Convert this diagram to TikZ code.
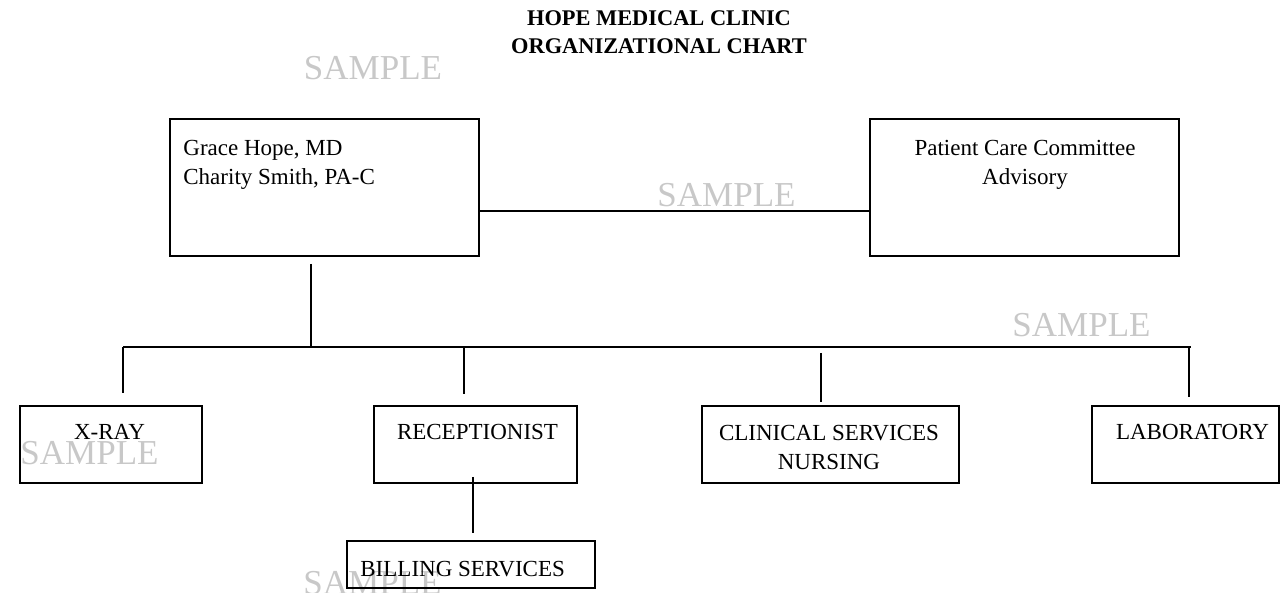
\documentclass[tikz,border=0pt]{standalone}
\usepackage{fontspec}
\setmainfont{Liberation Serif}
\usetikzlibrary{fit}
\definecolor{stampgray}{RGB}{200,200,200}
\tikzset{
	unit/.style={draw, line width=0.9pt, inner sep=0pt},
	txt/.style={inner sep=0pt, font=\fontsize{11.5}{14.75}\selectfont},
	head/.style={inner sep=0pt, font=\fontsize{11.2}{14}\selectfont\bfseries},
	stamp/.style={inner sep=0pt, text=stampgray, font=\fontsize{17.5}{20}\selectfont},
	wire/.style={line width=0.9pt}
}

\begin{document}
\begin{tikzpicture}[x=0.5pt, y=-0.5pt]
	\useasboundingbox (0,0) rectangle (1281,593);
	\node(stampa)[stamp, anchor=base] at (373,80) {SAMPLE};
	\node(stampb)[stamp, anchor=base] at (726.5,207) {SAMPLE};
	\node(stampc)[stamp, anchor=base] at (1081.5,337) {SAMPLE};
	\node(stampd)[stamp, anchor=base] at (89.5,465) {SAMPLE};
	\node(stampe)[stamp, anchor=base] at (372.5,594) {SAMPLE};
	\node(title)[head, anchor=base, align=center] at (659,54) {HOPE MEDICAL CLINIC\\ORGANIZATIONAL CHART};
	\node(grace)[unit, fit={(170,119) (479,256)}] {};
	\node(gracetxt)[txt, anchor=base west, align=left] at (183,185) {Grace Hope, MD\\Charity Smith, PA-C};
	\node(pcc)[unit, fit={(870,119) (1179,256)}] {};
	\node(pcctxt)[txt, anchor=base, align=center] at (1025,185) {Patient Care Committee\\Advisory};
	\node(xray)[unit, fit={(20,406) (202,483)}] {};
	\node(xraytxt)[txt, anchor=base] at (109.5,439) {X-RAY};
	\node(recep)[unit, fit={(374,406) (577,483)}] {};
	\node(receptxt)[txt, anchor=base] at (477.5,440) {RECEPTIONIST};
	\node(clin)[unit, fit={(702,406) (959,483)}] {};
	\node(clintxt)[txt, anchor=base, align=center] at (829,470) {CLINICAL SERVICES\\NURSING};
	\node(lab)[unit, fit={(1092,406) (1279,483)}] {};
	\node(labtxt)[txt, anchor=base] at (1192.5,440) {LABORATORY};
	\node(bill)[unit, fit={(347,541) (595,588)}] {};
	\node(billtxt)[txt, anchor=base west] at (360,576) {BILLING SERVICES};
	\coordinate(link) at (479,211);
	\draw[wire] (link) -- (link -| pcc.west);
	\coordinate(trunk) at (311,264);
	\coordinate(bus) at (311,347);
	\draw[wire] (trunk) -- (bus);
	\coordinate(busleft) at (123,347);
	\coordinate(busright) at (1191,347);
	\draw[wire] (busleft) -- (busright);
	\coordinate(xrayin) at (123,393);
	\coordinate(recepin) at (464,394);
	\coordinate(clinin) at (821,402);
	\coordinate(labin) at (1189,397);
	\draw[wire] (busleft) -- (xrayin);
	\draw[wire] (recepin |- bus) -- (recepin);
	\draw[wire] (821,353) -- (clinin);
	\draw[wire] (labin |- bus) -- (labin);
	\coordinate(recepout) at (473,477);
	\coordinate(billin) at (473,533);
	\draw[wire] (recepout) -- (billin);
\end{tikzpicture}
\end{document}
